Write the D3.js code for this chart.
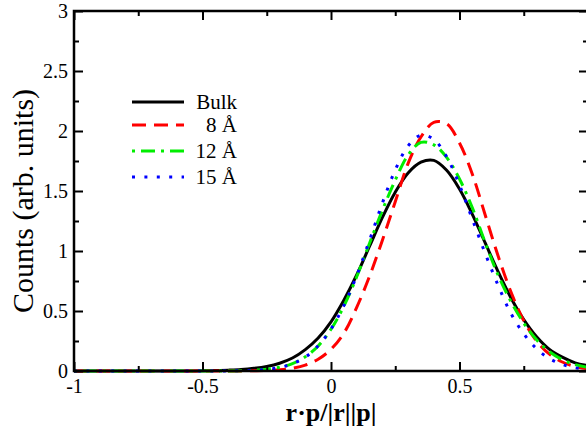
<!DOCTYPE html>
<html>
<head>
<meta charset="utf-8">
<script src="https://cdn.jsdelivr.net/npm/d3@7"></script>
<style>
    body { margin: 0; background: white; }
    #chart { width: 586px; height: 429px; }
    svg text { font-family: "Times New Roman", Times, "Liberation Serif", "DejaVu Serif", serif; }
</style>
</head>
<body>
<div id="chart"></div>
<script>
// cos angle values (x axis)
const xs = [-1, -0.95, -0.9, -0.85, -0.8, -0.75, -0.7, -0.65, -0.6, -0.55,
    -0.5, -0.45, -0.4, -0.35, -0.3, -0.25, -0.2, -0.15, -0.1, -0.05,
    0, 0.05, 0.1, 0.15, 0.2, 0.25, 0.3, 0.35, 0.4, 0.45,
    0.5, 0.55, 0.6, 0.65, 0.7, 0.75, 0.8, 0.85, 0.9, 0.95, 1];

const bulk = [0, 0, 0, 0, 0, 0, 0, 0, 0, 0,
    0.002, 0.004, 0.007, 0.012, 0.022, 0.038, 0.065, 0.108, 0.178, 0.275,
    0.41, 0.59, 0.80, 1.04, 1.28, 1.49, 1.65, 1.74, 1.755, 1.673,
    1.517, 1.306, 1.067, 0.829, 0.611, 0.428, 0.285, 0.18, 0.115, 0.068, 0.045];

const pore8 = [0, 0, 0, 0, 0, 0, 0, 0, 0, 0,
    0, 0, 0.0005, 0.001, 0.002, 0.004, 0.01, 0.023, 0.049, 0.098,
    0.181, 0.315, 0.53, 0.79, 1.09, 1.41, 1.73, 1.95, 2.072, 2.06,
    1.90, 1.64, 1.30, 0.96, 0.66, 0.42, 0.25, 0.14, 0.075, 0.037, 0.018];

const pore12 = [0, 0, 0, 0, 0, 0, 0, 0, 0, 0,
    0, 0.0005, 0.001, 0.0025, 0.006, 0.014, 0.031, 0.062, 0.118, 0.209,
    0.348, 0.54, 0.785, 1.065, 1.34, 1.59, 1.80, 1.905, 1.885, 1.78,
    1.60, 1.36, 1.07, 0.80, 0.58, 0.40, 0.26, 0.16, 0.095, 0.053, 0.03];

const pore15 = [0, 0, 0, 0, 0, 0, 0, 0, 0, 0,
    0, 0.0005, 0.001, 0.002, 0.006, 0.013, 0.029, 0.06, 0.115, 0.21,
    0.35, 0.545, 0.795, 1.09, 1.40, 1.675, 1.875, 1.965, 1.93, 1.785,
    1.55, 1.265, 0.98, 0.715, 0.48, 0.31, 0.185, 0.103, 0.055, 0.027, 0.013];

const seriesNames = ["Bulk", "8 Å", "12 Å", "15 Å"];
const seriesValues = [bulk, pore8, pore12, pore15];

const xTickValues = [-1, -0.5, 0, 0.5, 1];
const xTickLabels = ["-1", "-0.5", "0", "0.5", ""];
const xMinorTicks = [-0.75, -0.25, 0.25, 0.75];
const yTickValues = [0, 0.5, 1, 1.5, 2, 2.5, 3];
const yTickLabels = ["0", "0.5", "1", "1.5", "2", "2.5", "3"];
const yMinorTicks = [0.25, 0.75, 1.25, 1.75, 2.25, 2.75];

class AngleVis {
    constructor(_parentElement) {
        this.parentElement = _parentElement;
        this.initVis();
    }

    initVis() {
        let vis = this;

        vis.margin = { top: 11, right: 0, bottom: 58, left: 74 };
        vis.width = 514;
        vis.height = 360;

        vis.svg = d3.select("#" + vis.parentElement).append("svg")
            .attr("width", 586)
            .attr("height", 429)
            .append("g")
            .attr("transform", "translate(" + vis.margin.left + "," + vis.margin.top + ")");

        vis.x = d3.scaleLinear().domain([-1, 1]).range([0, vis.width]);
        vis.y = d3.scaleLinear().domain([0, 3]).range([vis.height, 0]);

        vis.colors = ["black", "#ff0000", "#00ee00", "#0000ff"];
        vis.dashes = [null, "14,8", "3,6,14,6", "3,9.4"];

        vis.wrangleData();
    }

    wrangleData() {
        let vis = this;
        vis.displayData = seriesNames.map((name, i) => ({
            name: name,
            values: xs.map((x, j) => ({ x: x, y: seriesValues[i][j] }))
        }));
        vis.updateVis();
    }

    updateVis() {
        let vis = this;

        // curves
        const line = d3.line()
            .x(d => vis.x(d.x))
            .y(d => vis.y(Math.max(0, d.y)))
            .curve(d3.curveCatmullRom.alpha(0.5));

        vis.svg.selectAll(".series")
            .data(vis.displayData)
            .enter()
            .append("path")
            .attr("class", "series")
            .attr("fill", "none")
            .attr("stroke", (d, i) => vis.colors[i])
            .attr("stroke-width", 3)
            .attr("stroke-dasharray", (d, i) => vis.dashes[i])
            .attr("d", d => line(d.values));

        // frame
        vis.svg.append("rect")
            .attr("width", vis.width)
            .attr("height", vis.height)
            .attr("fill", "none")
            .attr("stroke", "black")
            .attr("stroke-width", 2.5);

        // axes (ticks inward)
        const styleAxis = g => {
            g.attr("font-family", null).attr("font-size", 20);
            g.select(".domain").remove();
            g.selectAll("line").attr("stroke", "black").attr("stroke-width", 2);
            g.selectAll("text").attr("fill", "black");
        };

        vis.svg.append("g")
            .attr("transform", "translate(0," + vis.height + ")")
            .call(d3.axisBottom(vis.x).tickValues(xTickValues)
                .tickSize(-9).tickPadding(8)
                .tickFormat((d, i) => xTickLabels[i]))
            .call(styleAxis);
        vis.svg.append("g")
            .attr("transform", "translate(0," + vis.height + ")")
            .call(d3.axisBottom(vis.x).tickValues(xMinorTicks).tickSize(-5).tickFormat(""))
            .call(styleAxis);
        vis.svg.append("g")
            .call(d3.axisTop(vis.x).tickValues(xTickValues).tickSize(-9).tickFormat(""))
            .call(styleAxis);
        vis.svg.append("g")
            .call(d3.axisTop(vis.x).tickValues(xMinorTicks).tickSize(-5).tickFormat(""))
            .call(styleAxis);

        vis.svg.append("g")
            .call(d3.axisLeft(vis.y).tickValues(yTickValues)
                .tickSize(-9).tickPadding(6)
                .tickFormat((d, i) => yTickLabels[i]))
            .call(styleAxis);
        vis.svg.append("g")
            .call(d3.axisLeft(vis.y).tickValues(yMinorTicks).tickSize(-5).tickFormat(""))
            .call(styleAxis);
        vis.svg.append("g")
            .attr("transform", "translate(" + vis.width + ",0)")
            .call(d3.axisRight(vis.y).tickValues(yTickValues).tickSize(-9).tickFormat(""))
            .call(styleAxis);
        vis.svg.append("g")
            .attr("transform", "translate(" + vis.width + ",0)")
            .call(d3.axisRight(vis.y).tickValues(yMinorTicks).tickSize(-5).tickFormat(""))
            .call(styleAxis);

        // axis labels
        vis.svg.append("text")
            .attr("class", "x-axis-label")
            .attr("x", 331 - vis.margin.left)
            .attr("y", 421 - vis.margin.top)
            .attr("text-anchor", "middle")
            .attr("font-size", 26)
            .attr("font-weight", "bold")
            .text("r·p/|r||p|");

        vis.svg.append("text")
            .attr("class", "y-axis-label")
            .attr("transform", "translate(" + (33 - vis.margin.left) + "," + (201 - vis.margin.top) + ") rotate(-90)")
            .attr("text-anchor", "middle")
            .attr("font-size", 30)
            .text("Counts (arb. units)");

        // legend
        const legendY = [102, 125, 151, 177];

        vis.svg.selectAll(".legend-line")
            .data(vis.displayData)
            .enter()
            .append("line")
            .attr("class", "legend-line")
            .attr("x1", 132 - vis.margin.left)
            .attr("x2", 184 - vis.margin.left)
            .attr("y1", (d, i) => legendY[i] - vis.margin.top)
            .attr("y2", (d, i) => legendY[i] - vis.margin.top)
            .attr("stroke", (d, i) => vis.colors[i])
            .attr("stroke-width", 3)
            .attr("stroke-dasharray", (d, i) => vis.dashes[i]);

        vis.svg.selectAll(".legend-label")
            .data(vis.displayData)
            .enter()
            .append("text")
            .attr("class", "legend-label")
            .attr("x", 237 - vis.margin.left)
            .attr("y", (d, i) => legendY[i] - vis.margin.top + 7)
            .attr("text-anchor", "end")
            .attr("font-size", 21)
            .text(d => d.name);
    }
}

new AngleVis("chart");
</script>
</body>
</html>
